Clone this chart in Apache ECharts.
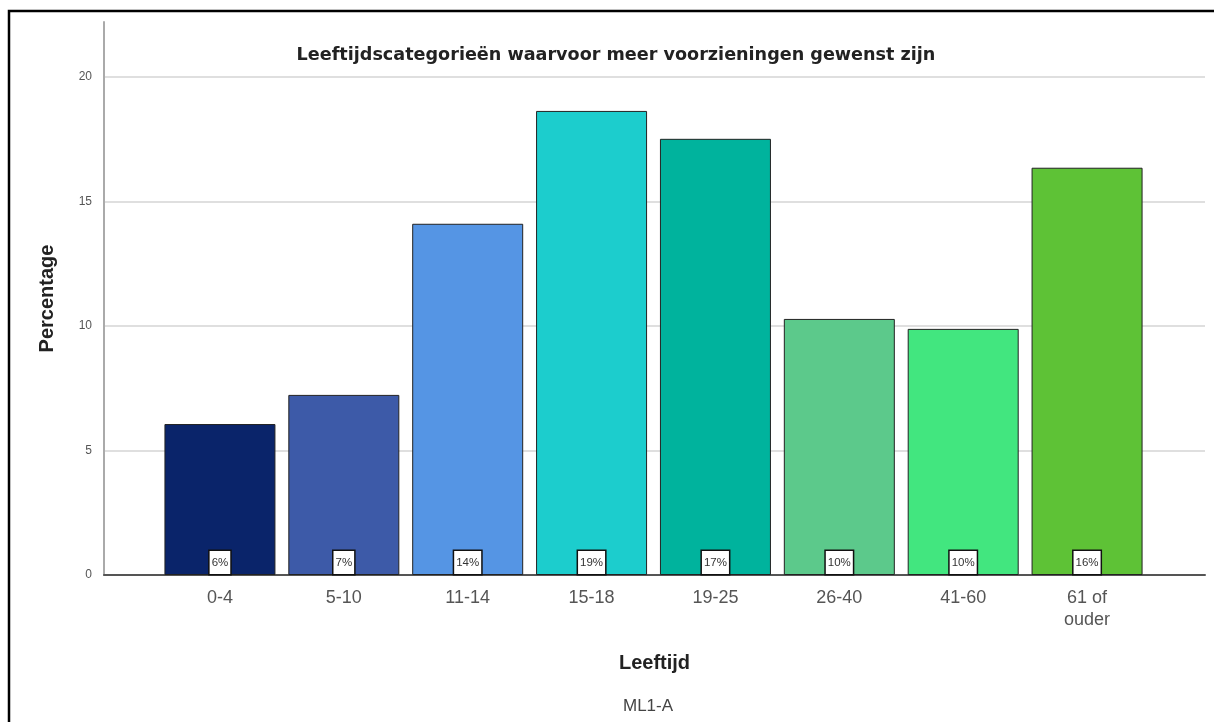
<!DOCTYPE html>
<html>
<head>
<meta charset="utf-8">
<script src="https://cdn.jsdelivr.net/npm/echarts@6/dist/echarts.min.js"></script>
<style>
html,body{margin:0;padding:0;background:#fff;}
#chart{width:1214px;height:722px;}
</style>
</head>
<body>
<div id="chart"></div>
<script>
const categories = ['0-4','5-10','11-14','15-18','19-25','26-40','41-60','61 of\nouder'];
const values = [6.06,7.23,14.1,18.63,17.51,10.28,9.88,16.35];
const labels = ['6%','7%','14%','19%','17%','10%','10%','16%'];
const colors = ['#0a246a','#3d5aa8','#5595e4','#1ccdcd','#00b39d','#5cc98b','#42e67f','#5ec236'];
const yTicks = [0,5,10,15,20];

const chart = echarts.init(document.getElementById('chart'));
const font = 'Liberation Sans, Arial, sans-serif';
const yMax = 22.2;

chart.setOption({
  backgroundColor:'#fff',
  animation:false,
  title:{
    text:'Leeftijdscategorieën waarvoor meer voorzieningen gewenst zijn',
    left:611, top:41, textAlign:'center',
    textStyle:{fontFamily:'DejaVu Sans, sans-serif',fontSize:17.6,fontWeight:'bold',color:'#222'}
  },
  grid:[
    {left:104,right:9,top:22,bottom:147},
    {left:158,right:65,top:22,bottom:147}
  ],
  xAxis:[
    {type:'category',gridIndex:0,data:['a'],
     axisLine:{show:true,lineStyle:{color:'#555',width:2}},
     axisTick:{show:false},axisLabel:{show:false},
     name:'Leeftijd',nameLocation:'middle',nameGap:78,
     nameTextStyle:{fontFamily:font,fontSize:20,fontWeight:'bold',color:'#222'}},
    {type:'category',gridIndex:1,data:categories,
     axisLine:{show:false},axisTick:{show:false},
     axisLabel:{fontFamily:font,fontSize:18,color:'#555',margin:12,lineHeight:22,interval:0}}
  ],
  yAxis:[
    {type:'value',gridIndex:0,min:0,max:yMax,interval:5,
     axisLine:{show:true,lineStyle:{color:'#aaa',width:2}},
     axisTick:{show:false},
     axisLabel:{fontFamily:font,fontSize:12,color:'#555',margin:12,
       formatter:v=>yTicks.includes(v)?String(v):''},
     splitLine:{show:true,showMaxLine:false,lineStyle:{color:'#d4d4d4',width:1.5}},
     name:'Percentage',nameLocation:'middle',nameGap:47,nameRotate:90,
     nameTextStyle:{fontFamily:font,fontSize:20,fontWeight:'bold',color:'#222'}},
    {type:'value',gridIndex:1,min:0,max:yMax,interval:5,show:false}
  ],
  series:[{
    type:'bar',xAxisIndex:1,yAxisIndex:1,
    barWidth:111,
    data:values.map((v,i)=>({value:v,itemStyle:{color:colors[i]}})),
    itemStyle:{borderColor:'#222',borderWidth:1},
    label:{show:true,position:'insideBottom',distance:1,
      formatter:p=>labels[p.dataIndex],
      fontFamily:font,fontSize:11.5,color:'#333',
      backgroundColor:'#fff',borderColor:'#111',borderWidth:1.5,
      padding:[6,2,5,2]}
  }],
  graphic:[
    {type:'rect', shape:{x:9,y:11,width:1220,height:730},
     style:{fill:'none',stroke:'#000',lineWidth:2.5}, silent:true},
    {type:'text', x:648, y:698,
     style:{text:'ML1-A',font:'17px Liberation Sans, Arial, sans-serif',fill:'#444',textAlign:'center'}}
  ]
});
</script>
</body>
</html>
